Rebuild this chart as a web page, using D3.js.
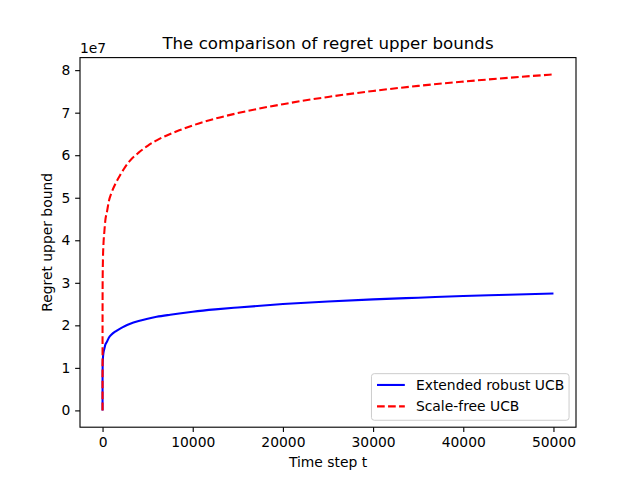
<!DOCTYPE html>
<html><head><meta charset="utf-8">
<script src="https://cdn.jsdelivr.net/npm/d3@7"></script>
<style>
body{margin:0;background:#fff}
text{font-family:"DejaVu Sans",sans-serif;fill:#000}
</style>
</head><body>
<svg id="chart" width="640" height="480"></svg>
<script>
// ---- data ----
const timeSteps    = [0, 1, 10, 50, 100, 200, 300, 500, 700, 1000, 1500, 2000, 2500, 3000, 4000, 5000, 6000, 7500, 8500, 10000, 12500, 15000, 20000, 25000, 30000, 35000, 40000, 45000, 50000];
const robustUCB    = [0, 0.7e7, 1.05e7, 1.25e7, 1.35e7, 1.45e7, 1.54e7, 1.62e7, 1.71e7, 1.785e7, 1.865e7, 1.93e7, 1.985e7, 2.03e7, 2.10e7, 2.155e7, 2.20e7, 2.25e7, 2.28e7, 2.32e7, 2.375e7, 2.42e7, 2.50e7, 2.56e7, 2.61e7, 2.65e7, 2.69e7, 2.72e7, 2.75e7];
const scaleFreeUCB = [0, 2.0e7, 3.0e7, 3.6e7, 3.9e7, 4.2e7, 4.45e7, 4.68e7, 4.92e7, 5.12e7, 5.36e7, 5.55e7, 5.72e7, 5.86e7, 6.06e7, 6.22e7, 6.35e7, 6.50e7, 6.585e7, 6.70e7, 6.86e7, 6.99e7, 7.20e7, 7.37e7, 7.51e7, 7.63e7, 7.73e7, 7.82e7, 7.90e7];
const seriesNames  = ["Extended robust UCB", "Scale-free UCB"];
const xTickValues  = [0, 10000, 20000, 30000, 40000, 50000];
const yTickValues  = [0, 1e7, 2e7, 3e7, 4e7, 5e7, 6e7, 7e7, 8e7];
const titleText    = "The comparison of regret upper bounds";
const xLabelText   = "Time step t";
const yLabelText   = "Regret upper bound";

// ---- layout (matplotlib default figure) ----
const W = 640, H = 480;
const L = 80, R = 576, T = 57.6, B = 427.2;
const fs = 13.89, tickLen = 4.86, tickPad = 4.86;

const svg = d3.select("#chart");

const xMin = d3.min(timeSteps), xMax = d3.max(timeSteps);
const xPad = (xMax - xMin) * 0.05;
const allY = robustUCB.concat(scaleFreeUCB);
const yMin = d3.min(allY), yMax = d3.max(allY);
const yPad = (yMax - yMin) * 0.05;

const x = d3.scaleLinear().domain([xMin - xPad, xMax + xPad]).range([L, R]);
const y = d3.scaleLinear().domain([yMin - yPad, yMax + yPad]).range([B, T]);

// lines
const series = [
  {name: seriesNames[0], values: robustUCB, color: "#0000ff", dash: null},
  {name: seriesNames[1], values: scaleFreeUCB, color: "#ff0000", dash: "7.7,3.33"}
];
const line = d3.line().x(d => x(d[0])).y(d => y(d[1])).curve(d3.curveMonotoneX);

svg.append("defs").append("clipPath").attr("id", "clip")
  .append("rect").attr("x", L).attr("y", T).attr("width", R - L).attr("height", B - T);

const g = svg.append("g").attr("clip-path", "url(#clip)");
series.forEach(s => {
  g.append("path")
    .datum(timeSteps.map((t, i) => [t, s.values[i]]))
    .attr("d", line)
    .attr("fill", "none")
    .attr("stroke", s.color)
    .attr("stroke-width", 2.08)
    .attr("stroke-dasharray", s.dash);
});

// axes
const xAxis = svg.append("g").attr("transform", `translate(0,${B})`)
  .call(d3.axisBottom(x).tickValues(xTickValues).tickFormat(d3.format("d"))
        .tickSize(tickLen).tickPadding(tickPad).tickSizeOuter(0));
const yAxis = svg.append("g").attr("transform", `translate(${L},0)`)
  .call(d3.axisLeft(y).tickValues(yTickValues).tickFormat(d => d3.format("d")(Math.round(d / 1e7)))
        .tickSize(tickLen).tickPadding(tickPad).tickSizeOuter(0));
[xAxis, yAxis].forEach(a => {
  a.select(".domain").remove();
  a.selectAll(".tick line").attr("stroke", "#000").attr("stroke-width", 1.11);
  a.selectAll(".tick text").attr("font-size", fs).attr("font-family", "DejaVu Sans").attr("fill", "#000");
});

// frame
svg.append("rect").attr("x", L).attr("y", T).attr("width", R - L).attr("height", B - T)
  .attr("fill", "none").attr("stroke", "#000").attr("stroke-width", 1.11);

// offset text
svg.append("text").attr("x", L).attr("y", T - 5).attr("font-size", fs).text("1e7");

// title & labels
svg.append("text").attr("x", (L + R) / 2).attr("y", T - 8.3).attr("text-anchor", "middle")
  .attr("font-size", 16.67).text(titleText);
svg.append("text").attr("x", (L + R) / 2).attr("y", 467).attr("text-anchor", "middle")
  .attr("font-size", fs).text(xLabelText);
svg.append("text").attr("transform", `translate(52,${(T + B) / 2}) rotate(-90)`)
  .attr("text-anchor", "middle").attr("font-size", fs).text(yLabelText);

// legend
const lgW = 197.6, lgH = 46.6;
const lgX = R - 6.94 - lgW, lgY = B - 6.94 - lgH;
const lg = svg.append("g");
lg.append("rect").attr("x", lgX).attr("y", lgY).attr("width", lgW).attr("height", lgH)
  .attr("rx", 2.8).attr("fill", "#fff").attr("fill-opacity", 0.8)
  .attr("stroke", "#cccccc").attr("stroke-width", 1);
series.forEach((s, i) => {
  const cy = lgY + 11.3 + i * 21.4;
  lg.append("line").attr("x1", lgX + 5.56).attr("x2", lgX + 5.56 + 27.8)
    .attr("y1", cy).attr("y2", cy)
    .attr("stroke", s.color).attr("stroke-width", 2.08).attr("stroke-dasharray", s.dash);
  lg.append("text").attr("x", lgX + 5.56 + 27.8 + 11.1).attr("y", cy).attr("dy", "0.35em")
    .attr("font-size", fs).text(s.name);
});
</script>
</body></html>
